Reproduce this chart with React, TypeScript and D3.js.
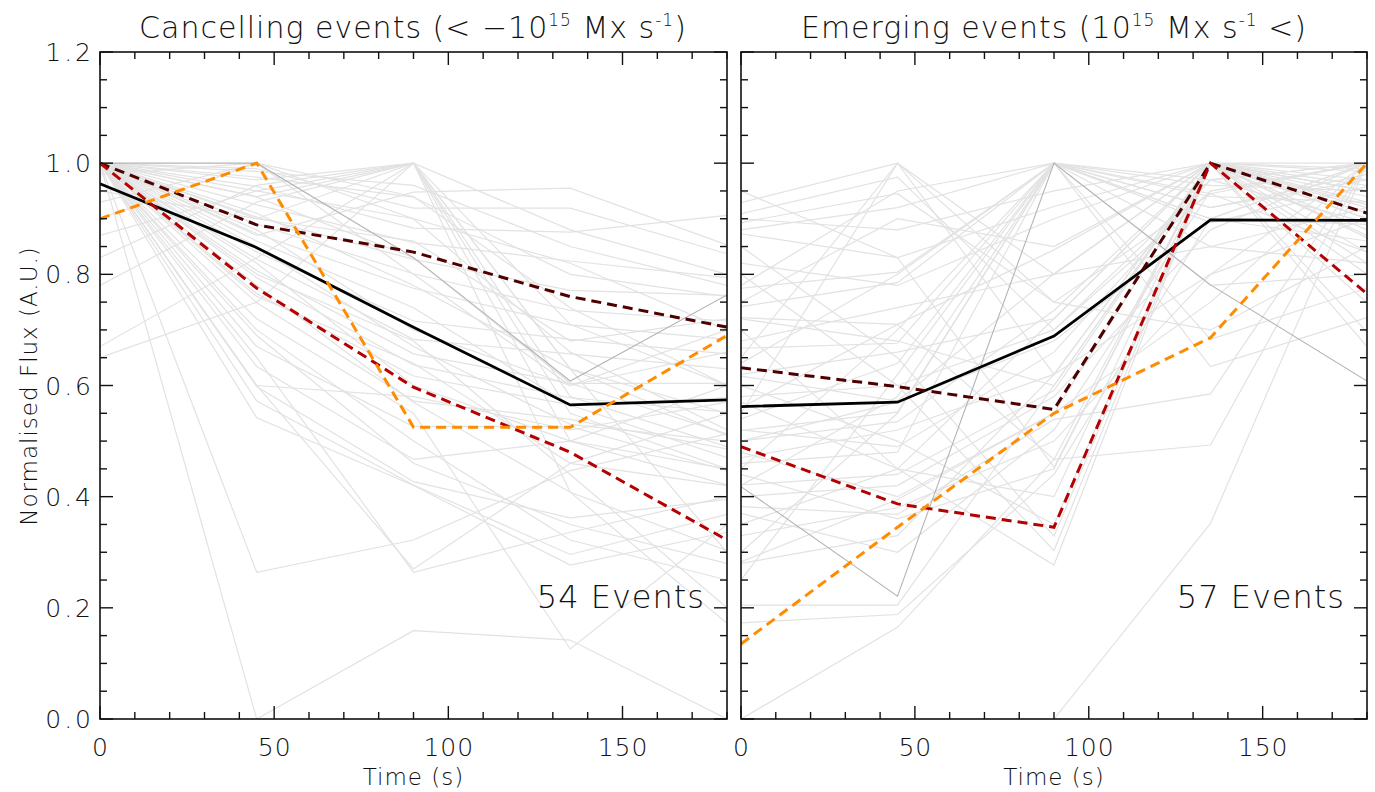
import React from "react";
import * as d3 from "d3";

const TIMES = [0, 45, 90, 135, 180];

// Cancelling events (left panel) – individual normalised flux curves
const cancelGray: number[][] = [
  [1.0, 0.0, 0.159, 0.142, 0.0],
  [1.0, 0.264, 0.322, 0.447, 0.513],
  [1.0, 0.6, 0.27, 0.46, 0.55],
  [1.0, 0.65, 0.264, 0.336, 0.4],
  [1.0, 0.97, 1.0, 0.408, 0.172],
  [1.0, 0.94, 1.0, 0.63, 0.3],
  [0.95, 0.9, 1.0, 0.5, 0.45],
  [1.0, 0.87, 0.948, 0.955, 0.853],
  [1.0, 0.99, 0.919, 0.919, 0.837],
  [1.0, 0.958, 0.883, 0.876, 0.906],
  [1.0, 0.925, 0.857, 0.824, 0.794],
  [1.0, 0.903, 0.827, 0.771, 0.762],
  [1.0, 0.89, 0.801, 0.735, 0.716],
  [1.0, 0.873, 0.775, 0.709, 0.683],
  [1.0, 0.84, 0.716, 0.683, 0.657],
  [1.0, 0.827, 0.683, 0.657, 0.63],
  [1.0, 0.807, 0.657, 0.604, 0.604],
  [1.0, 0.794, 0.637, 0.578, 0.552],
  [1.0, 0.765, 0.617, 0.565, 0.578],
  [1.0, 0.749, 0.572, 0.539, 0.486],
  [1.0, 0.67, 0.526, 0.526, 0.447],
  [1.0, 0.634, 0.467, 0.5, 0.421],
  [1.0, 0.598, 0.427, 0.362, 0.395],
  [1.0, 0.572, 0.421, 0.296, 0.368],
  [1.0, 0.542, 0.42, 0.277, 0.336],
  [0.83, 0.96, 1.0, 0.88, 0.8],
  [0.93, 1.0, 0.94, 0.74, 0.6],
  [0.98, 1.0, 0.9, 0.66, 0.52],
  [0.9, 1.0, 0.8, 0.6, 0.7],
  [0.67, 0.83, 1.0, 0.71, 0.6],
  [0.65, 0.75, 1.0, 0.55, 0.45],
  [0.87, 0.95, 1.0, 0.63, 0.51],
  [1.0, 0.975, 0.939, 0.8, 0.76],
  [1.0, 0.939, 0.83, 0.604, 0.513],
  [1.0, 0.78, 0.57, 0.408, 0.303],
  [1.0, 0.7, 0.5, 0.322, 0.25],
  [1.0, 0.72, 0.55, 0.126, 0.35],
  [1.0, 0.8, 0.68, 0.44, 0.2],
  [1.0, 0.86, 0.74, 0.565, 0.47],
  [1.0, 0.82, 0.6, 0.5, 0.6],
  [1.0, 0.9, 0.86, 0.68, 0.72],
  [1.0, 0.95, 0.9, 0.82, 0.7],
  [1.0, 0.88, 0.7, 0.6, 0.66],
  [1.0, 0.76, 0.64, 0.46, 0.42],
  [1.0, 0.985, 0.96, 0.85, 0.78],
  [1.0, 0.91, 0.78, 0.63, 0.55],
  [1.0, 0.85, 0.67, 0.53, 0.5],
  [0.78, 0.93, 1.0, 0.58, 0.49],
  [1.0, 0.69, 0.46, 0.35, 0.28],
  [1.0, 0.6, 0.58, 0.52, 0.57],
];
const cancelDotted = [1.0, 1.0, 0.83, 0.608, 0.763];
const cancelMean = [0.963, 0.848, 0.705, 0.565, 0.574];
const cancelMaroon = [1.0, 0.889, 0.84, 0.76, 0.705];
const cancelRed = [1.0, 0.775, 0.597, 0.48, 0.322];
const cancelOrange = [0.9, 1.0, 0.525, 0.525, 0.69];

// Emerging events (right panel)
const emergeGray: number[][] = [
  [0.0, 0.165, 0.467, 1.0, 0.95],
  [0.0, 0.0, 0.0, 0.352, 1.0],
  [0.173, 0.188, 0.44, 0.9, 1.0],
  [0.205, 0.205, 0.6, 1.0, 0.87],
  [0.283, 0.395, 0.55, 1.0, 0.8],
  [0.929, 1.0, 0.8, 0.85, 0.82],
  [0.909, 0.975, 0.7, 0.97, 1.0],
  [0.893, 0.945, 0.75, 0.945, 1.0],
  [0.873, 0.83, 0.922, 1.0, 0.925],
  [0.775, 0.804, 1.0, 0.893, 0.958],
  [0.742, 0.785, 1.0, 0.97, 0.893],
  [0.722, 0.71, 0.844, 1.0, 0.866],
  [0.667, 0.676, 1.0, 0.945, 0.84],
  [0.617, 0.572, 0.801, 1.0, 0.82],
  [0.519, 0.552, 1.0, 0.683, 0.775],
  [0.5, 0.535, 0.735, 1.0, 0.749],
  [0.46, 0.48, 1.0, 0.634, 0.722],
  [0.421, 0.44, 0.591, 1.0, 0.696],
  [0.382, 0.368, 0.539, 0.585, 1.0],
  [0.56, 0.71, 0.467, 0.493, 1.0],
  [0.95, 0.83, 0.453, 1.0, 0.67],
  [0.85, 0.65, 0.329, 1.0, 0.9],
  [0.8, 0.6, 0.303, 1.0, 0.95],
  [0.7, 0.45, 0.277, 1.0, 1.0],
  [0.6, 0.5, 0.35, 1.0, 0.93],
  [0.35, 0.45, 0.4, 1.0, 0.88],
  [0.3, 0.55, 1.0, 0.9, 0.86],
  [0.25, 0.62, 1.0, 0.78, 0.8],
  [0.45, 0.7, 1.0, 0.85, 0.92],
  [0.55, 1.0, 0.75, 0.7, 0.85],
  [0.65, 1.0, 0.62, 0.8, 0.9],
  [0.75, 0.9, 0.85, 1.0, 0.97],
  [0.82, 0.78, 0.9, 1.0, 0.99],
  [0.9, 0.88, 0.95, 1.0, 0.95],
  [0.58, 0.6, 0.7, 0.95, 1.0],
  [0.5, 0.57, 0.68, 0.9, 1.0],
  [0.4, 0.42, 0.58, 0.88, 1.0],
  [0.33, 0.38, 0.5, 0.8, 1.0],
  [0.62, 0.66, 0.72, 1.0, 0.92],
  [0.68, 0.74, 0.8, 1.0, 0.96],
  [0.47, 0.52, 0.62, 1.0, 0.985],
  [0.52, 0.49, 0.66, 0.97, 1.0],
  [0.72, 0.68, 0.6, 1.0, 0.94],
  [0.44, 0.36, 0.45, 1.0, 0.9],
  [0.37, 0.3, 0.52, 0.95, 1.0],
  [0.28, 0.33, 0.62, 1.0, 0.91],
  [0.78, 0.95, 1.0, 0.9, 0.89],
  [0.88, 0.92, 1.0, 0.92, 0.97],
  [0.64, 0.8, 1.0, 0.94, 0.93],
  [0.54, 0.64, 1.0, 0.96, 0.95],
  [0.42, 0.58, 1.0, 0.92, 0.98],
  [0.57, 0.45, 0.72, 1.0, 0.84],
  [0.48, 0.4, 0.55, 0.75, 1.0],
];
const emergeDotted = [0.418, 0.221, 1.0, 0.781, 0.608];
const emergeMean = [0.562, 0.57, 0.689, 0.898, 0.897];
const emergeMaroon = [0.632, 0.598, 0.557, 1.0, 0.91];
const emergeRed = [0.49, 0.387, 0.345, 1.0, 0.765];
const emergeOrange = [0.135, 0.345, 0.55, 0.686, 1.0];

const X_MAJOR = [0, 50, 100, 150];
const Y_MAJOR = [0, 0.2, 0.4, 0.6, 0.8, 1.0, 1.2];

const FONT = "'DejaVu Sans', sans-serif";
const TOP = 52;
const BOTTOM = 719;

type PanelProps = {
  left: number;
  right: number;
  gray: number[][];
  dotted: number[];
  mean: number[];
  maroon: number[];
  red: number[];
  orange: number[];
  count: string;
  showYLabels: boolean;
};

function Panel(p: PanelProps) {
  const x = d3.scaleLinear().domain([0, 180]).range([p.left, p.right]);
  const y = d3.scaleLinear().domain([0, 1.2]).range([BOTTOM, TOP]);
  const line = d3
    .line<number>()
    .x((_, i) => x(TIMES[i]))
    .y((d) => y(d));

  const xMinor = d3.range(0, 181, 10);
  const yMinor = d3.range(0, 1.2001, 0.05);
  const isMajorX = (v: number) => X_MAJOR.includes(v);
  const isMajorY = (v: number) => Y_MAJOR.some((m) => Math.abs(m - v) < 1e-6);

  return (
    <g>
      <defs>
        <clipPath id={`clip-${p.left}`}>
          <rect x={p.left} y={TOP} width={p.right - p.left} height={BOTTOM - TOP} />
        </clipPath>
      </defs>
      <g clipPath={`url(#clip-${p.left})`}>
        {p.gray.map((s, i) => (
          <path key={i} d={line(s) || ""} fill="none" stroke="#e2e2e2" strokeWidth={1.2} />
        ))}
        <path d={line(p.dotted) || ""} fill="none" stroke="#b4b4b4" strokeWidth={1.1} />
        <path d={line(p.mean) || ""} fill="none" stroke="#000" strokeWidth={2.8} />
        <path d={line(p.maroon) || ""} fill="none" stroke="#4e0000" strokeWidth={3} strokeDasharray="10,6" />
        <path d={line(p.red) || ""} fill="none" stroke="#b40000" strokeWidth={3} strokeDasharray="10,6" />
        <path d={line(p.orange) || ""} fill="none" stroke="#ff8c00" strokeWidth={3} strokeDasharray="10,6" />
      </g>
      {/* frame */}
      <rect x={p.left} y={TOP} width={p.right - p.left} height={BOTTOM - TOP} fill="none" stroke="#111" strokeWidth={1.6} />
      {/* x ticks */}
      {xMinor.map((v) => {
        const len = isMajorX(v) ? 13 : 7;
        return (
          <g key={"xt" + v}>
            <line x1={x(v)} x2={x(v)} y1={BOTTOM} y2={BOTTOM - len} stroke="#111" strokeWidth={1.4} />
            <line x1={x(v)} x2={x(v)} y1={TOP} y2={TOP + len} stroke="#111" strokeWidth={1.4} />
          </g>
        );
      })}
      {/* y ticks */}
      {yMinor.map((v, i) => {
        const len = isMajorY(v) ? 13 : 7;
        return (
          <g key={"yt" + i}>
            <line x1={p.left} x2={p.left + len} y1={y(v)} y2={y(v)} stroke="#111" strokeWidth={1.4} />
            <line x1={p.right} x2={p.right - len} y1={y(v)} y2={y(v)} stroke="#111" strokeWidth={1.4} />
          </g>
        );
      })}
      {/* x labels */}
      {X_MAJOR.map((v) => (
        <text key={"xl" + v} x={x(v) + 0.5} y={756} textAnchor="middle" fontSize={25} fontFamily={FONT} fontWeight={200} fill="#111" letterSpacing={1}>
          {v}
        </text>
      ))}
      <text x={(p.left + p.right) / 2} y={785} textAnchor="middle" fontSize={23} fontFamily={FONT} fontWeight={200} fill="#111" letterSpacing={1}>
        Time (s)
      </text>
      {p.showYLabels &&
        Y_MAJOR.map((v) => (
          <text key={"yl" + v} x={94} y={y(v) + 9} textAnchor="end" fontSize={25} fontFamily={FONT} fontWeight={200} fill="#111" letterSpacing={3}>
            {d3.format(".1f")(v)}
          </text>
        ))}
      <text x={p.right - 22} y={608} textAnchor="end" fontSize={32} fontFamily={FONT} fontWeight={200} fill="#111" letterSpacing={1}>
        {p.count}
      </text>
    </g>
  );
}

export default function App() {
  return (
    <svg width={1375} height={792} style={{ position: "absolute", left: 0, top: 0, background: "#fff" }}>
      <rect x={0} y={0} width={1375} height={792} fill="#fff" />
      <Panel
        left={100}
        right={727}
        gray={cancelGray}
        dotted={cancelDotted}
        mean={cancelMean}
        maroon={cancelMaroon}
        red={cancelRed}
        orange={cancelOrange}
        count="54 Events"
        showYLabels={true}
      />
      <Panel
        left={741}
        right={1367}
        gray={emergeGray}
        dotted={emergeDotted}
        mean={emergeMean}
        maroon={emergeMaroon}
        red={emergeRed}
        orange={emergeOrange}
        count="57 Events"
        showYLabels={false}
      />
      <text x={413} y={38} textAnchor="middle" fontSize={30} fontFamily={FONT} fontWeight={200} fill="#111" letterSpacing={1}>
        Cancelling events (&lt; −10<tspan fontSize={17} dy={-12}>15</tspan>
        <tspan dy={12}> Mx s</tspan>
        <tspan fontSize={17} dy={-12}>-1</tspan>
        <tspan dy={12}>)</tspan>
      </text>
      <text x={1054} y={38} textAnchor="middle" fontSize={30} fontFamily={FONT} fontWeight={200} fill="#111" letterSpacing={1}>
        Emerging events (10<tspan fontSize={17} dy={-12}>15</tspan>
        <tspan dy={12}> Mx s</tspan>
        <tspan fontSize={17} dy={-12}>-1</tspan>
        <tspan dy={12}> &lt;)</tspan>
      </text>
      <text
        transform="translate(37,386) rotate(-90)"
        textAnchor="middle"
        fontSize={23}
        fontFamily={FONT}
        fontWeight={200}
        fill="#111"
        letterSpacing={1}
      >
        Normalised Flux (A.U.)
      </text>
    </svg>
  );
}
